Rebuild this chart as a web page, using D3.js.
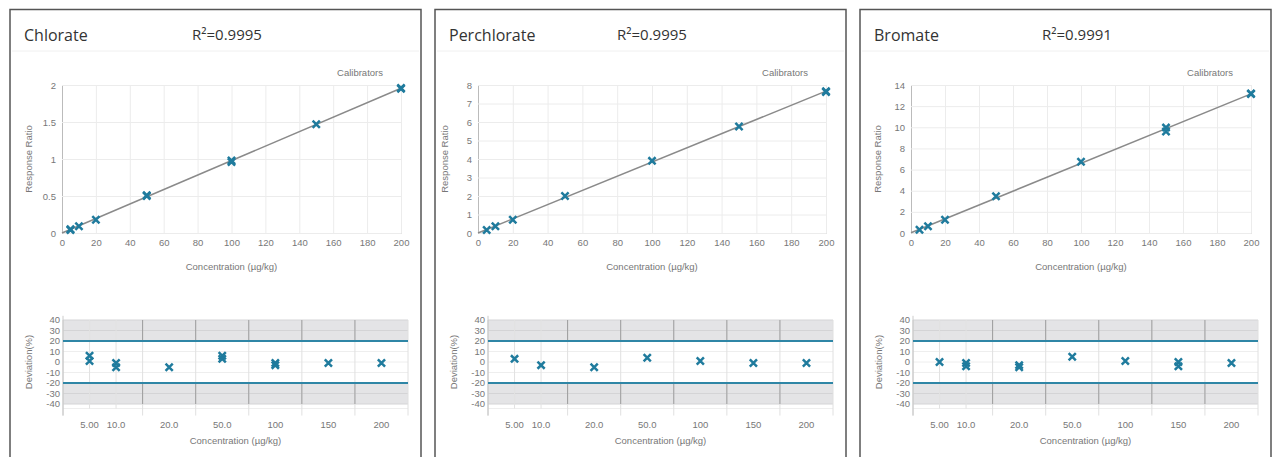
<!DOCTYPE html>
<html>
<head>
<meta charset="utf-8">
<script src="https://cdn.jsdelivr.net/npm/d3@7"></script>
<style>
  body { margin: 0; background: #fff; }
  svg { display: block; }
  .tick text { font-family: "Liberation Sans", Arial, sans-serif; font-size: 9.5px; fill: #777; }
  .lbl { font-family: "Liberation Sans", Arial, sans-serif; font-size: 9.5px; fill: #777; }
</style>
</head>
<body>
<svg id="chart" width="1276" height="457"></svg>
<script>
// data
const analytes = ["Chlorate", "Perchlorate", "Bromate"];
const rSquared = ["0.9995", "0.9995", "0.9991"];
const concentrations = [5, 10, 20, 50, 100, 150, 200];
const concLabels = ["5.00", "10.0", "20.0", "50.0", "100", "150", "200"];
const responseMax = [2, 8, 14];
const responseStep = [0.5, 1, 2];

// response ratio per calibrator level (replicates)
const chlorateResponse = [[0.04, 0.05], [0.09], [0.18], [0.5, 0.51], [0.96, 0.98], [1.47], [1.95, 1.96]];
const perchlorateResponse = [[0.16], [0.36], [0.72], [2.0], [3.9], [5.76], [7.62, 7.66]];
const bromateResponse = [[0.31], [0.63], [1.25], [3.48], [6.74], [9.97, 9.6], [13.15, 13.2]];

// deviation (%) per calibrator level
const chlorateDeviation = [[6, 1], [-1, -5], [-5], [6, 3], [-1, -3], [-1], [-1]];
const perchlorateDeviation = [[3], [-3], [-5], [4], [1], [-1], [-1]];
const bromateDeviation = [[0], [-1, -4], [-3, -5], [5], [1], [0, -4], [-1]];

const responses = [chlorateResponse, perchlorateResponse, bromateResponse];
const deviations = [chlorateDeviation, perchlorateDeviation, bromateDeviation];

const teal = "#1f7b9d";
const svg = d3.select("#chart");

const panelLeft = [10, 435, 860];
const panelW = 411;
const plotLeftPad = [52, 43, 51];

function cross(g, x, y) {
  const s = 3.6;
  g.append("path")
    .attr("d", `M${x - s},${y - s}L${x + s},${y + s}M${x - s},${y + s}L${x + s},${y - s}`)
    .attr("stroke", teal).attr("stroke-width", 2.5).attr("fill", "none");
}

analytes.forEach((name, p) => {
  const L = panelLeft[p];
  const g = svg.append("g");

  // panel frame
  g.append("rect").attr("x", L).attr("y", 9.5).attr("width", panelW).attr("height", 470)
    .attr("fill", "#fff").attr("stroke", "#555").attr("stroke-width", 1.5);
  g.append("line").attr("x1", L + 2).attr("x2", L + panelW - 2).attr("y1", 51).attr("y2", 51)
    .attr("stroke", "#f0f0f0");

  g.append("text").attr("x", L + 14).attr("y", 41).text(name)
    .style("font-family", "'Open Sans', sans-serif").style("font-size", "16px").attr("fill", "#333");
  g.append("text").attr("x", L + 182).attr("y", 40).text("R²=" + rSquared[p])
    .style("font-family", "'Open Sans', sans-serif").style("font-size", "15px").attr("fill", "#333");

  // ---- calibration curve ----
  const x = d3.scaleLinear().domain([0, 200]).range([L + plotLeftPad[p], L + 391]);
  const y = d3.scaleLinear().domain([0, responseMax[p]]).range([233, 85]);
  const yTicks = d3.range(0, responseMax[p] + 1e-9, responseStep[p]);

  g.append("g").attr("transform", `translate(0,${y(0)})`)
    .call(d3.axisBottom(x).tickValues(d3.range(0, 201, 20)).tickSize(-(y(0) - y(responseMax[p]))).tickPadding(6))
    .call(a => a.select(".domain").attr("stroke", "#ddd"))
    .call(a => a.selectAll(".tick line").attr("stroke", "#ececec"));
  g.append("g").attr("transform", `translate(${x(0)},0)`)
    .call(d3.axisLeft(y).tickValues(yTicks).tickSize(-(x(200) - x(0))).tickPadding(6).tickFormat(d3.format("~g")))
    .call(a => a.select(".domain").attr("stroke", "#bbb"))
    .call(a => a.selectAll(".tick line").attr("stroke", "#ececec"));

  // least squares fit through the calibrators
  const pts = [];
  responses[p].forEach((reps, i) => reps.forEach(v => pts.push([concentrations[i], v])));
  const mx = d3.mean(pts, d => d[0]), my = d3.mean(pts, d => d[1]);
  const slope = d3.sum(pts, d => (d[0] - mx) * (d[1] - my)) / d3.sum(pts, d => (d[0] - mx) ** 2);
  const icpt = my - slope * mx;
  g.append("line").attr("x1", x(0)).attr("y1", y(Math.max(0, icpt)))
    .attr("x2", x(200)).attr("y2", y(icpt + slope * 200))
    .attr("stroke", "#8a8a8a").attr("stroke-width", 1.5);

  pts.forEach(d => cross(g, x(d[0]), y(d[1])));

  g.append("text").attr("class", "lbl").attr("x", x(200) - 18).attr("y", 76)
    .attr("text-anchor", "end").text("Calibrators").attr("fill", "#444");
  g.append("text").attr("class", "lbl").attr("x", (x(0) + x(200)) / 2).attr("y", 270)
    .attr("text-anchor", "middle").text("Concentration (µg/kg)");
  g.append("text").attr("class", "lbl")
    .attr("transform", `translate(${x(0) - 30},${(y(0) + y(responseMax[p])) / 2}) rotate(-90)`)
    .attr("text-anchor", "middle").text("Response Ratio");

  // ---- deviation plot ----
  const xi = i => (i === 0 ? 0.5 : i);
  const dx = d3.scaleLinear().domain([0, 6.5]).range([L + 53, L + 398]);
  const dy = d3.scaleLinear().domain([-40, 40]).range([404, 320]);
  const top = dy(44), bot = dy(-51);

  // gray bands outside ±20
  [[40, 20], [-20, -40]].forEach(b => {
    g.append("rect").attr("x", dx(0)).attr("width", dx(6.5) - dx(0))
      .attr("y", dy(b[0])).attr("height", dy(b[1]) - dy(b[0])).attr("fill", "#e4e4e6");
  });
  // horizontal grid
  d3.range(-40, 41, 10).forEach(v => {
    g.append("line").attr("x1", dx(0)).attr("x2", dx(6.5)).attr("y1", dy(v)).attr("y2", dy(v))
      .attr("stroke", Math.abs(v) > 20 ? "#d4d4d6" : "#eeeeee");
  });
  g.append("line").attr("x1", dx(0)).attr("x2", dx(6.5)).attr("y1", bot - 7).attr("y2", bot - 7)
    .attr("stroke", "#eeeeee");
  // vertical grid at category centres and boundaries
  [0.5, 1].forEach(v => {
    g.append("line").attr("x1", dx(v)).attr("x2", dx(v)).attr("y1", dy(40)).attr("y2", bot - 7)
      .attr("stroke", "#e2e2e2");
  });
  [0, 1.5, 2.5, 3.5, 4.5, 5.5, 6.5].forEach(v => {
    g.append("line").attr("x1", dx(v)).attr("x2", dx(v)).attr("y1", dy(40)).attr("y2", bot)
      .attr("stroke", v === 0 ? "#ccc" : "#e0e0e0");
    [[40, 20], [-20, -40]].forEach(b => {
      if (v > 0 && v < 6.5)
        g.append("line").attr("x1", dx(v)).attr("x2", dx(v)).attr("y1", dy(b[0])).attr("y2", dy(b[1]))
          .attr("stroke", "#9a9a9c");
    });
  });
  g.append("line").attr("x1", dx(0)).attr("x2", dx(0)).attr("y1", top).attr("y2", bot).attr("stroke", "#ccc");

  // y tick labels
  g.append("g").selectAll("text").data(d3.range(-40, 41, 10)).join("text")
    .attr("class", "lbl").attr("x", dx(0) - 3).attr("y", d => dy(d)).attr("dy", "0.35em")
    .attr("text-anchor", "end").text(d => d);

  // ±20 limits
  [20, -20].forEach(v => {
    g.append("line").attr("x1", dx(0)).attr("x2", dx(6.5)).attr("y1", dy(v)).attr("y2", dy(v))
      .attr("stroke", "#2f86a6").attr("stroke-width", 2);
  });

  // x labels
  g.append("g").selectAll("text").data(concLabels).join("text")
    .attr("class", "lbl").attr("x", (d, i) => dx(xi(i))).attr("y", 428)
    .attr("text-anchor", "middle").text(d => d);

  deviations[p].forEach((reps, i) => reps.forEach(v => cross(g, dx(xi(i)), dy(v))));

  g.append("text").attr("class", "lbl").attr("x", (dx(0) + dx(6.5)) / 2).attr("y", 444)
    .attr("text-anchor", "middle").text("Concentration (µg/kg)");
  g.append("text").attr("class", "lbl")
    .attr("transform", `translate(${L + 22},${dy(0)}) rotate(-90)`)
    .attr("text-anchor", "middle").text("Deviation(%)");
});
</script>
</body>
</html>
